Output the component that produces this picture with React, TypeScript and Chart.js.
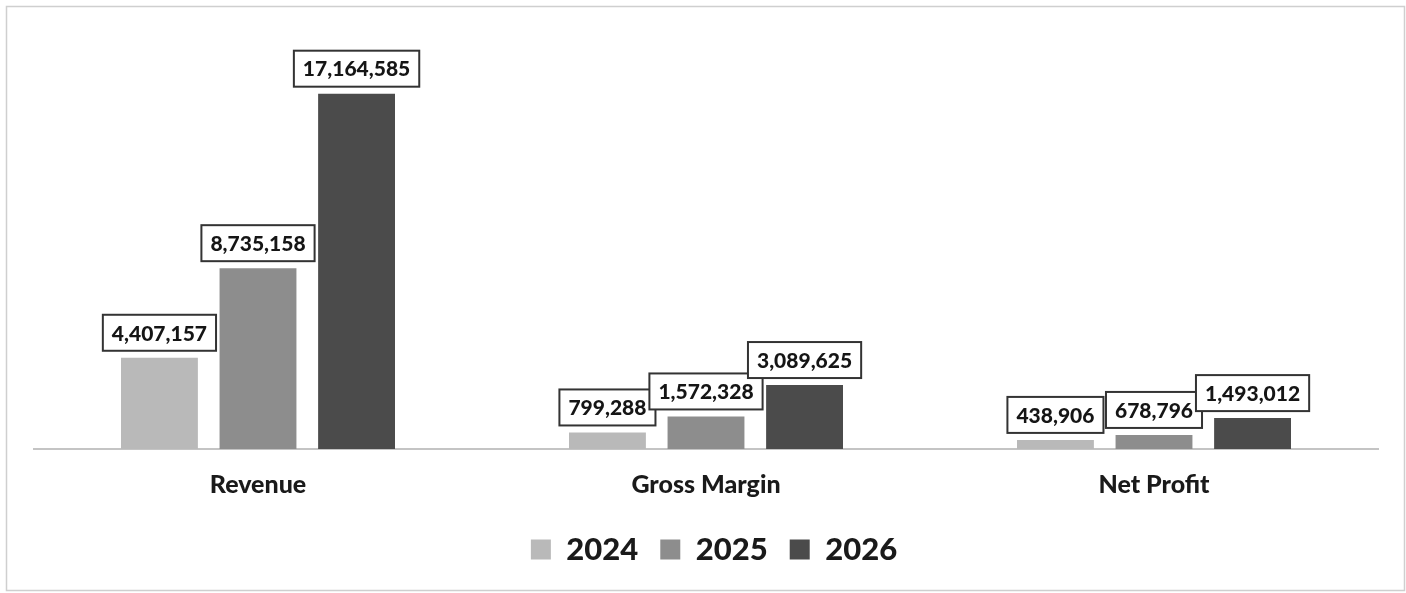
import React, { useEffect, useRef } from "react";
import { Chart, registerables } from "chart.js";

Chart.register(...registerables);

const categories = ["Revenue", "Gross Margin", "Net Profit"];
const seriesNames = ["2024", "2025", "2026"];
const values2024 = [4407157, 799288, 438906];
const values2025 = [8735158, 1572328, 678796];
const values2026 = [17164585, 3089625, 1493012];
const seriesColors = ["#b9b9b9", "#8d8d8d", "#4b4b4b"];

const FONT = "Lato, 'Open Sans', sans-serif";

const fmt = (v: number) => v.toLocaleString("en-US");

const framePlugin = {
  id: "frame",
  beforeDraw(chart: any) {
    const ctx = chart.ctx;
    ctx.save();
    ctx.fillStyle = "#ffffff";
    ctx.fillRect(0, 0, chart.width, chart.height);
    ctx.strokeStyle = "#cfcfcf";
    ctx.lineWidth = 1.5;
    ctx.strokeRect(6.5, 6.5, chart.width - 8, chart.height - 9);
    ctx.restore();
  },
};

const boxLabelPlugin = {
  id: "boxLabels",
  afterDatasetsDraw(chart: any) {
    const ctx = chart.ctx;
    ctx.save();
    ctx.font = `900 21px ${FONT}`;
    chart.data.datasets.forEach((ds: any, di: number) => {
      const meta = chart.getDatasetMeta(di);
      meta.data.forEach((bar: any, i: number) => {
        const text = fmt(ds.data[i]);
        const tw = ctx.measureText(text).width;
        const w = tw + 18;
        const h = 36;
        const x = bar.x - w / 2;
        const y = bar.y - 7 - h;
        ctx.fillStyle = "#ffffff";
        ctx.fillRect(x, y, w, h);
        ctx.strokeStyle = "#333333";
        ctx.lineWidth = 2;
        ctx.strokeRect(x, y, w, h);
        ctx.fillStyle = "#151515";
        ctx.textAlign = "center";
        ctx.textBaseline = "middle";
        ctx.fillText(text, bar.x, y + h / 2 + 1);
      });
    });
    ctx.restore();
  },
};

export default function App() {
  const ref = useRef<HTMLCanvasElement | null>(null);

  useEffect(() => {
    if (!ref.current) return;
    const seriesValues = [values2024, values2025, values2026];
    const chart = new Chart(ref.current, {
      type: "bar",
      data: {
        labels: categories,
        datasets: seriesNames.map((name, i) => ({
          label: name,
          data: seriesValues[i],
          backgroundColor: seriesColors[i],
          borderWidth: 0,
          categoryPercentage: 0.66,
          barPercentage: 0.78,
          yAxisID: "y",
        })),
      },
      options: {
        responsive: false,
        animation: false,
        layout: { padding: { left: 34, right: 12, top: 35, bottom: 18 } },
        scales: {
          y: { display: false, min: 0, max: 20000000 },
          yRight: {
            position: "right",
            display: true,
            grid: { display: false },
            border: { display: false },
            ticks: { display: false },
            afterFit: (scale: any) => {
              scale.width = 16;
            },
          },
          x: {
            grid: { display: false },
            border: { display: true, color: "#c4c4c4", width: 2 },
            ticks: {
              padding: 15,
              color: "#1a1a1a",
              font: { family: FONT, size: 25, weight: "900", lineHeight: 1.0 },
            },
          },
        },
        plugins: {
          tooltip: { enabled: false },
          legend: {
            position: "bottom",
            labels: {
              boxWidth: 20,
              boxHeight: 20,
              padding: 22,
              color: "#1a1a1a",
              font: { family: FONT, size: 31, weight: "900" },
            },
          },
        },
      },
      plugins: [framePlugin, boxLabelPlugin],
    });
    return () => chart.destroy();
  }, []);

  return (
    <div style={{ position: "fixed", left: 0, top: 0, width: 1406, height: 593, background: "#fff" }}>
      <canvas ref={ref} width={1406} height={593} style={{ display: "block" }} />
    </div>
  );
}
